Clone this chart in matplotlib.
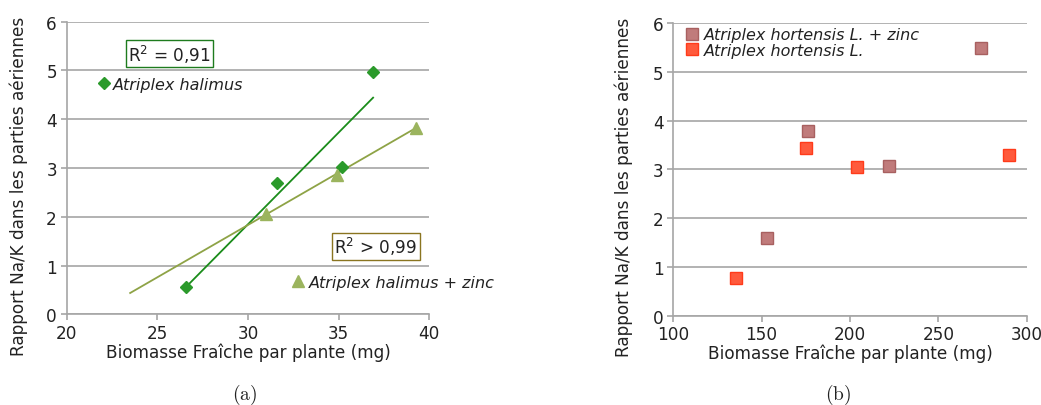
import numpy as np
import matplotlib.pyplot as plt
from matplotlib.lines import Line2D

# --- (a) Atriplex halimus ---
halimus_x = [26.6, 31.6, 35.2, 36.9]
halimus_y = [0.57, 2.69, 3.03, 4.97]
zinc_x = [31.0, 34.9, 39.25]
zinc_y = [2.06, 2.86, 3.83]
zinc_fit_start = 23.5

# --- (b) Atriplex hortensis ---
hort_zinc_x = [152.9, 176.4, 221.9, 274.0]
hort_zinc_y = [1.59, 3.79, 3.07, 5.49]
hort_x = [135.5, 174.9, 204.0, 289.8]
hort_y = [0.77, 3.44, 3.05, 3.30]

ylabel = "Rapport Na/K dans les parties aériennes"
xlabel = "Biomasse Fraîche par plante (mg)"

GREEN = "#2b9a2b"
GREEN_LINE = "#1a8c1a"
OLIVE = "#9bb45e"
OLIVE_LINE = "#8ea346"
BROWN = "#c07b7b"
BROWN_EDGE = "#a86060"
RED = "#ff5a3c"
RED_EDGE = "#ff3b1a"
GRID = "#a6a6a6"
TXT = "#222222"
FS = 12.2
LFS = 11.5

plt.rcParams["font.family"] = "DejaVu Sans"
plt.rcParams["font.size"] = FS

fig = plt.figure(figsize=(10.41, 4.06), dpi=100)
ax1 = fig.add_axes([66.7 / 1041, 1 - 315.3 / 406, 362.6 / 1041, 292.6 / 406])
ax2 = fig.add_axes([673.3 / 1041, 1 - 316.7 / 406, 353.4 / 1041, 292.7 / 406])


def style(ax, label_x):
    for s in ["top", "right"]:
        ax.spines[s].set_visible(False)
    for s in ["left", "bottom"]:
        ax.spines[s].set_color(GRID)
        ax.spines[s].set_linewidth(1.2)
    ax.set_ylim(0, 6)
    ax.set_yticks(range(7))
    ax.yaxis.grid(True, color=GRID, linewidth=1.2)
    ax.set_axisbelow(True)
    ax.tick_params(color=GRID, labelcolor=TXT, length=4, width=1.2, labelsize=FS, pad=3)
    ax.set_ylabel(ylabel, color=TXT, fontsize=FS)
    ax.yaxis.set_label_coords(label_x, 0.442)
    ax.set_xlabel(xlabel, color=TXT, fontsize=FS, labelpad=0)


# panel (a)
style(ax1, -0.107)
ax1.set_xlim(20, 40)
ax1.set_xticks([20, 25, 30, 35, 40])

a, b = np.polyfit(halimus_x, halimus_y, 1)
xs = np.array([min(halimus_x), max(halimus_x)])
ax1.plot(xs, a * xs + b, color=GREEN_LINE, lw=1.3, zorder=2)
a2, b2 = np.polyfit(zinc_x, zinc_y, 1)
xs2 = np.array([zinc_fit_start, max(zinc_x)])
ax1.plot(xs2, a2 * xs2 + b2, color=OLIVE_LINE, lw=1.3, zorder=2)

ax1.plot(halimus_x, halimus_y, "D", color=GREEN, ms=6, zorder=3, clip_on=False)
ax1.plot(zinc_x, zinc_y, "^", color=OLIVE, ms=9, zorder=3, clip_on=False)

leg1 = ax1.legend(handles=[Line2D([], [], marker="D", ls="", color=GREEN, ms=6)],
                  labels=["Atriplex halimus"], loc="center left",
                  bbox_to_anchor=(0.05, 0.787), frameon=False, handlelength=0.6,
                  handletextpad=0.25, prop={"style": "italic", "size": LFS})
ax1.add_artist(leg1)
leg2 = ax1.legend(handles=[Line2D([], [], marker="^", ls="", color=OLIVE, ms=9)],
                  labels=["Atriplex halimus + zinc"], loc="center left",
                  bbox_to_anchor=(0.585, 0.11), frameon=False, handlelength=0.6,
                  handletextpad=0.4, prop={"style": "italic", "size": LFS})
for t in leg1.get_texts() + leg2.get_texts():
    t.set_color(TXT)

ax1.text(0.2835, 0.891, r"R$^2$ = 0,91", transform=ax1.transAxes, ha="center",
         va="center", color=TXT, fontsize=FS,
         bbox=dict(boxstyle="square,pad=0.15", fc="white", ec="#1e7b1e", lw=1))
ax1.text(0.852, 0.232, r"R$^2$ > 0,99", transform=ax1.transAxes, ha="center",
         va="center", color=TXT, fontsize=FS,
         bbox=dict(boxstyle="square,pad=0.15", fc="white", ec="#8a7520", lw=1))

# panel (b)
style(ax2, -0.114)
ax2.set_xlim(100, 300)
ax2.set_xticks([100, 150, 200, 250, 300])
ax2.plot(hort_zinc_x, hort_zinc_y, "s", color=BROWN, mec=BROWN_EDGE, ms=9,
         label="Atriplex hortensis L. + zinc", zorder=3)
ax2.plot(hort_x, hort_y, "s", color=RED, mec=RED_EDGE, ms=9,
         label="Atriplex hortensis L.", zorder=3)
leg3 = ax2.legend(loc="upper left", bbox_to_anchor=(0.0, 1.035), frameon=False,
                  handlelength=0.6, handletextpad=0.4, labelspacing=0.05,
                  prop={"style": "italic", "size": LFS})
for t in leg3.get_texts():
    t.set_color(TXT)

# captions
fig.text(245 / 1041, 1 - 395 / 406, r"$\mathrm{(a)}$", ha="center", va="center",
         fontsize=14, math_fontfamily="cm", color=TXT)
fig.text(838 / 1041, 1 - 395 / 406, r"$\mathrm{(b)}$", ha="center", va="center",
         fontsize=14, math_fontfamily="cm", color=TXT)

fig.savefig("out.png", dpi=100)
